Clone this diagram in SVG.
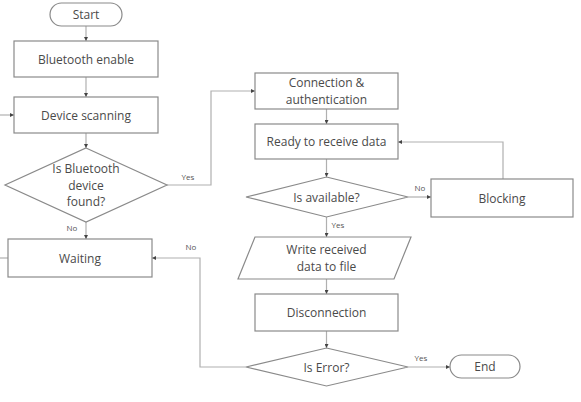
<svg xmlns="http://www.w3.org/2000/svg" width="581" height="402" viewBox="0 0 581 402">
<defs>
<style>
.n{fill:#fff;stroke:#8a8a8a;stroke-width:1.2}
.t{font-family:"Open Sans","Noto Sans",sans-serif;font-size:12px;fill:#4a4a4a;text-anchor:middle;dominant-baseline:central}
.l{font-family:"Open Sans","Noto Sans",sans-serif;font-size:8px;fill:#555;text-anchor:middle}
.c{fill:none;stroke:#b0b0b0;stroke-width:1.2}
</style>
<marker id="a" markerWidth="4" markerHeight="4" refX="4" refY="2" orient="auto" markerUnits="userSpaceOnUse">
<path d="M0,0 L4,2 L0,4 Z" fill="#444"/>
</marker>
</defs>
<rect width="581" height="402" fill="#fff"/>
<g id="connectors">
<path class="c" d="M86,26 V41" marker-end="url(#a)"/>
<path class="c" d="M86,77 V97" marker-end="url(#a)"/>
<path class="c" d="M0,115 H14" marker-end="url(#a)"/>
<path class="c" d="M86,133 V148" marker-end="url(#a)"/>
<path class="c" d="M167,185 H211 V91 H255" marker-end="url(#a)"/>
<path class="c" d="M86,222 V239" marker-end="url(#a)"/>
<path class="c" d="M8,258 H0"/>
<path class="c" d="M326.5,109 V124" marker-end="url(#a)"/>
<path class="c" d="M326.5,159 V177" marker-end="url(#a)"/>
<path class="c" d="M408,197 H431" marker-end="url(#a)"/>
<path class="c" d="M503,179 V142 H398" marker-end="url(#a)"/>
<path class="c" d="M326.5,217 V237" marker-end="url(#a)"/>
<path class="c" d="M326.5,279 V294" marker-end="url(#a)"/>
<path class="c" d="M326.5,331 V348" marker-end="url(#a)"/>
<path class="c" d="M246,367 H200 V258 H152" marker-end="url(#a)"/>
<path class="c" d="M408,367 H450" marker-end="url(#a)"/>
<text class="l" x="188" y="180">Yes</text>
<text class="l" x="72" y="231">No</text>
<text class="l" x="191" y="250">No</text>
<text class="l" x="420" y="191">No</text>
<text class="l" x="338" y="228">Yes</text>
<text class="l" x="421" y="361">Yes</text>
</g>
<g id="start"><rect class="n" x="50" y="3" width="72" height="23" rx="11.5"/><text class="t" x="86" y="14.5">Start</text></g>
<g id="bt-enable"><rect class="n" x="14" y="41" width="144" height="36"/><text class="t" x="86" y="59">Bluetooth enable</text></g>
<g id="scan"><rect class="n" x="14" y="97" width="144" height="36"/><text class="t" x="86" y="115">Device scanning</text></g>
<g id="found"><polygon class="n" points="86,148 167,185 86,222 5,185"/><text class="t" x="86" y="168.5">Is Bluetooth</text><text class="t" x="86" y="185">device</text><text class="t" x="86" y="201.5">found?</text></g>
<g id="waiting"><rect class="n" x="8" y="239" width="144" height="38"/><text class="t" x="80" y="258">Waiting</text></g>
<g id="connect"><rect class="n" x="255" y="73" width="143" height="36"/><text class="t" x="326.5" y="82.5">Connection &amp;</text><text class="t" x="326.5" y="99.5">authentication</text></g>
<g id="ready"><rect class="n" x="255" y="124" width="143" height="35"/><text class="t" x="326.5" y="141.5">Ready to receive data</text></g>
<g id="available"><polygon class="n" points="326.5,177 408,197 326.5,217 246,197"/><text class="t" x="326.5" y="197">Is available?</text></g>
<g id="blocking"><rect class="n" x="431" y="179" width="142" height="38"/><text class="t" x="502" y="198">Blocking</text></g>
<g id="write"><polygon class="n" points="255,237 411,237 394,279 238,279"/><text class="t" x="326.5" y="249.5">Write received</text><text class="t" x="326.5" y="266.5">data to file</text></g>
<g id="disconnect"><rect class="n" x="255" y="294" width="143" height="37"/><text class="t" x="326.5" y="312.5">Disconnection</text></g>
<g id="error"><polygon class="n" points="326.5,348 408,367 326.5,386 246,367"/><text class="t" x="326.5" y="367">Is Error?</text></g>
<g id="end"><rect class="n" x="450" y="355" width="70" height="23" rx="11.5"/><text class="t" x="485" y="366.5">End</text></g>
</svg>
